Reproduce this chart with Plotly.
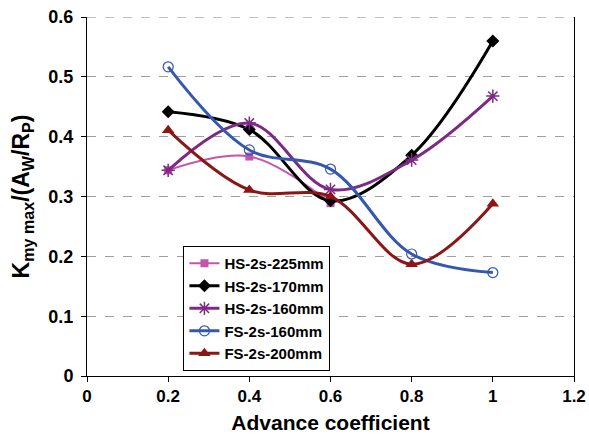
import plotly.graph_objects as go

x_hs225 = [0.2, 0.4, 0.6]
y_hs225 = [0.344, 0.367, 0.289]
x_all = [0.2, 0.4, 0.6, 0.8, 1.0]
y_hs170 = [0.442, 0.412, 0.293, 0.369, 0.560]
y_hs160 = [0.344, 0.423, 0.312, 0.361, 0.468]
y_fs160 = [0.517, 0.378, 0.346, 0.204, 0.173]
y_fs200 = [0.411, 0.311, 0.300, 0.187, 0.288]

x_ticks = [0, 0.2, 0.4, 0.6, 0.8, 1, 1.2]
y_ticks = [0, 0.1, 0.2, 0.3, 0.4, 0.5, 0.6]

series = [
    ("HS-2s-225mm", x_hs225, y_hs225, "#C455AC", 2, dict(symbol="square", size=8)),
    ("HS-2s-170mm", x_all, y_hs170, "#000000", 3, dict(symbol="diamond", size=10)),
    ("HS-2s-160mm", x_all, y_hs160, "#7D2A85", 3, dict(symbol="asterisk-open", size=11, line=dict(width=1.5, color="#7D2A85"))),
    ("FS-2s-160mm", x_all, y_fs160, "#3558AC", 3, dict(symbol="circle-open", size=10, line=dict(width=1.2, color="#3558AC"))),
    ("FS-2s-200mm", x_all, y_fs200, "#8B1616", 3, dict(symbol="triangle-up", size=11)),
]

fig = go.Figure()
for name, xs, ys, col, w, mk in series:
    mk = dict(mk)
    mk["color"] = col
    fig.add_trace(go.Scatter(
        x=xs, y=ys, name="<b>" + name + "</b>", mode="lines+markers",
        line=dict(color=col, width=w, shape="spline", smoothing=1.0),
        marker=mk,
    ))

# top gridline (plotly hides the one at the plot edge)
fig.add_shape(type="line", xref="paper", yref="y", x0=0, x1=1,
              y0=y_ticks[-1], y1=y_ticks[-1],
              line=dict(color="#A0A0A0", width=1, dash="dash"), layer="below")

fig.update_layout(
    width=589, height=437,
    margin=dict(l=87, r=15, t=17, b=61),
    paper_bgcolor="white", plot_bgcolor="white",
    font=dict(family="Liberation Sans, Arial, sans-serif", color="black"),
    showlegend=True,
    legend=dict(
        x=0.198, y=0.362, xanchor="left", yanchor="top",
        bgcolor="white", bordercolor="black", borderwidth=1,
        font=dict(size=15, family="Liberation Sans, Arial, sans-serif", color="black"),
        tracegroupgap=0, itemwidth=30,
    ),
)
fig.update_xaxes(
    range=[0, 1.2], tickvals=x_ticks, ticktext=["<b>%s</b>" % t for t in x_ticks],
    showgrid=False, zeroline=False, automargin=False,
    showline=True, linecolor="black", linewidth=1, mirror=False,
    ticks="outside", ticklen=5, tickcolor="black",
    tickfont=dict(size=17),
    title=dict(text="<b>Advance coefficient</b>", font=dict(size=21), standoff=9),
)
fig.update_yaxes(
    range=[0, 0.6003], tickvals=y_ticks, ticktext=["<b>%s</b>" % t for t in y_ticks],
    showgrid=True, gridcolor="#A0A0A0", griddash="dash", gridwidth=1,
    zeroline=False, automargin=False,
    showline=True, linecolor="black", linewidth=1, mirror=True,
    ticks="outside", ticklen=5, tickcolor="black", ticklabelstandoff=4,
    tickfont=dict(size=18),
    title=dict(text="<b>K<sub>my max</sub>/(A<sub>W</sub>/R<sub>P</sub>)</b>", font=dict(size=23), standoff=12),
)

fig.write_html(
    "out.html",
    config={"displayModeBar": False},
    post_script="document.body.style.margin='0';document.body.style.overflow='hidden';",
)
